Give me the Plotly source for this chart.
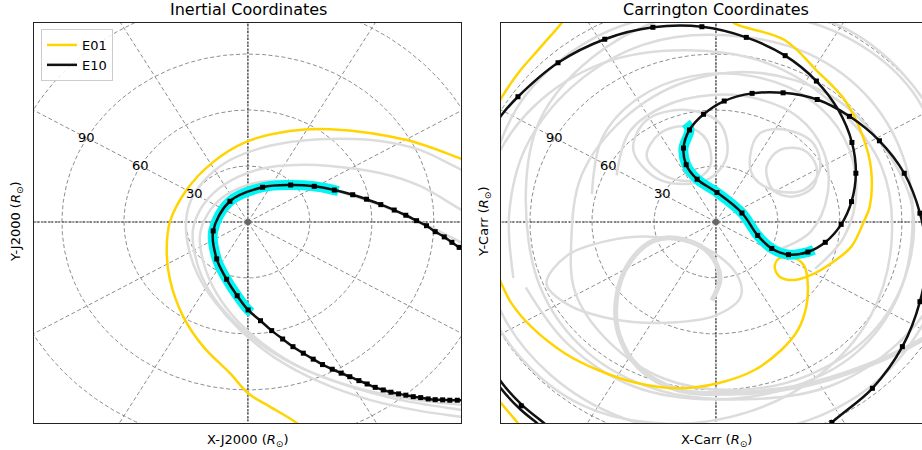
import numpy as np
import plotly.graph_objects as go

# ================= DATA (solar radii) =================
# ---- Inertial (J2000) frame ----
IN_E01_X = [110.0, 102.6, 76.8, 39.7, 20.3, -0.6, -17.6, -29.7, -37.7, -39.3, -37.7, -31.3, -21.6, -8.7, 0.1, 10.6, 22.7, 27.6]
IN_E01_Y = [31.0, 34.1, 43.9, 49.7, 48.7, 43.0, 31.4, 17.1, 0.2, -15.9, -31.1, -50.7, -66.8, -81.0, -91.8, -98.9, -107.0, -111.4]

IN_E10_X = [106.0, 102.2, 98.7, 95.0, 90.6, 86.4, 81.6, 76.4, 70.8, 64.3, 57.4, 50.7, 41.8, 32.1, 20.7, 7.1, -8.7, -16.8,
            -15.1, -10.3, -5.2, 0.1, 6.1, 11.5, 16.8, 21.8, 26.8, 31.6, 36.1, 40.8, 45.1, 49.3, 53.7, 57.7, 61.6, 65.5,
            69.2, 72.9, 76.4, 80.0, 83.6, 87.2, 90.6, 94.2, 97.7, 101.3, 104.8]
IN_E10_Y = [-16.0, -13.6, -10.9, -8.0, -5.2, -2.0, 0.7, 3.6, 6.4, 9.3, 12.2, 14.6, 17.1, 19.1, 19.8, 18.6, 11.1, -4.8,
            -19.8, -30.7, -39.5, -47.1, -52.9, -58.2, -62.7, -66.8, -70.3, -73.5, -76.4, -78.9, -81.0, -82.9, -85.0, -86.8,
            -88.6, -90.0, -91.2, -92.1, -92.8, -93.6, -94.1, -94.8, -95.2, -95.3, -95.5, -95.5, -95.6]

IN_CYAN_X = [43.8, 41.8, 32.1, 20.7, 7.1, -8.7, -16.8, -15.1, -10.3, -5.2, 0.1, 1.8]
IN_CYAN_Y = [16.6, 17.1, 19.1, 19.8, 18.6, 11.1, -4.8, -19.8, -30.7, -39.5, -47.1, -48.5]

IN_GRAY1_X = [109.8, 103.5, 83.2, 63.9, 39.7, 20.3, 3.4, -11.1, -21.8, -28.1, -30.0, -28.5, -24.2, -16.0, -3.9, 13.1, 34.8, 59.0, 83.2, 103.5, 109.8]
IN_GRAY1_Y = [25.2, 27.9, 38.6, 43.4, 44.5, 42.8, 38.6, 31.6, 21.4, 10.2, -1.6, -15.0, -28.4, -42.8, -57.8, -72.8, -85.7, -95.3, -101.2, -104.4, -105.5]
IN_GRAY2_X = [107.4, 103.5, 83.2, 63.9, 39.7, 22.7, 8.2, -4.8, -16.0, -23.2, -26.6, -25.6, -20.8, -11.1, 3.4, 22.7, 46.9, 73.5, 103.5, 109.8]
IN_GRAY2_Y = [4.3, 6.4, 19.3, 26.2, 30.0, 30.5, 28.9, 24.1, 16.1, 6.4, -4.3, -17.7, -32.7, -48.2, -63.2, -76.6, -87.3, -95.3, -100.7, -101.8]
IN_GRAY3_X = [107.4, 103.5, 83.2, 63.9, 44.5, 25.2, 10.6, -1.5, -12.6, -19.8, -23.2, -21.8, -16.9, -7.7, 6.8, 25.2, 49.3, 76.0, 103.5, 109.8]
IN_GRAY3_Y = [-13.4, -11.2, 0.0, 9.1, 16.1, 20.9, 22.0, 19.3, 12.9, 3.7, -7.0, -20.4, -34.8, -49.8, -64.8, -77.7, -87.8, -94.3, -98.0, -98.6]

# ---- Carrington frame ----
CA_E10_X = [-108.0, -103.7, -95.8, -76.4, -53.8, -30.5, -6.8, 14.7, 33.5, 48.6, 59.2, 65.8, 67.7, 65.6, 60.6, 52.9, 44.5,
            35.1, 27.0, 20.2, 12.6, 0.5, -9.1, -14.4, -15.7, -12.8, -6.0, 4.0, 17.5, 32.5, 49.0, 64.6, 79.1, 91.1, 98.7,
            102.1, 98.7, 90.2, 75.7, 56.1, 47.9, None,
            -106.9, -103.9, -93.9, -82.7, -79.3, None,
            -106.9, -103.9, -94.8, -86.1, -82.7]
CA_E10_Y = [50.0, 57.3, 67.1, 85.3, 97.9, 104.3, 104.6, 98.9, 89.1, 75.5, 60.0, 42.6, 26.1, 10.9, -1.3, -10.9, -16.1,
            -17.5, -14.2, -7.2, 4.8, 15.8, 22.9, 30.7, 39.6, 49.3, 57.7, 64.8, 68.9, 69.2, 65.6, 56.6, 43.5, 26.1, 4.7,
            -19.3, -42.7, -66.8, -89.1, -107.4, -116.8, None,
            -80.3, -85.7, -98.0, -108.2, -111.4, None,
            -84.6, -89.4, -100.2, -108.2, -111.4]
CA_E10_DAY_X = [-95.8, -76.4, -53.8, -30.5, -6.8, 14.7, 33.5, 48.6, 65.8, 67.7, 65.6, 60.6, 52.9, 44.5, 35.1, 27.0, 20.2,
                12.6, 0.5, -9.1, -14.4, -15.7, -12.8, -6.0, 4.0, 17.5, 32.5, 49.0, 64.6, 79.1, 91.1, 98.7, 98.7, 90.2,
                75.7, 56.1, -94.2]
CA_E10_DAY_Y = [67.1, 85.3, 97.9, 104.3, 104.6, 98.9, 89.1, 75.5, 42.6, 26.1, 10.9, -1.3, -10.9, -16.1, -17.5, -14.2, -7.2,
                4.8, 15.8, 22.9, 30.7, 39.6, 49.3, 57.7, 64.8, 68.9, 69.2, 65.6, 56.6, 43.5, 26.1, 4.7, -42.7, -66.8,
                -89.1, -107.4, -98.5]
CA_CYAN_X = [47.4, 44.5, 35.1, 27.0, 20.2, 12.6, 0.5, -9.1, -14.4, -15.7, -12.8, -14.5]
CA_CYAN_Y = [-15.0, -16.1, -17.5, -14.2, -7.2, 4.8, 15.8, 22.9, 30.7, 39.6, 49.3, 53.0]

CA_E01_X = [-106.9, -103.9, -95.8, -86.1, -74.8, -70.6, None,
            6.8, 9.0, 33.2, 48.5, 62.3, 71.1, 75.1, 74.4, 71.9, 65.5, 55.8, 46.1, 38.1, 30.8, 28.4, 30.8, 38.1, 42.9,
            44.5, 43.7, 39.7, 31.6, 18.7, 1.0, -18.4, -37.7, -57.1, -73.2, -89.4, -99.0, -103.9, -108.4, None,
            -106.9, -103.9, -95.8, -92.4]
CA_E01_Y = [60.0, 66.3, 79.6, 92.1, 106.4, 112.5, None,
            109.3, 106.4, 97.5, 81.4, 65.3, 45.7, 27.9, 8.2, 1.1, -13.2, -22.1, -28.4, -31.1, -29.3, -23.9, -19.4, -19.4,
            -23.9, -34.7, -45.4, -57.8, -68.6, -79.3, -86.4, -89.1, -86.4, -79.3, -70.3, -56.1, -43.5, -32.8, -21.4, None,
            -92.7, -97.1, -107.8, -112.5]

# gray trajectories of the other encounters (Carrington frame)
CA_GRAY_A_X = [-33.5, -27.1, -14.2, -4.5, -2.9, -11.0, -23.9, -33.5]
CA_GRAY_A_Y = [35.0, 47.5, 51.1, 43.9, 29.6, 22.5, 24.3, 35.0]
CA_GRAY_B_X = [-40.0, -33.5, -14.2, 1.9, 5.2, -4.5, -27.1, -40.0]
CA_GRAY_B_Y = [38.6, 54.6, 60.0, 52.8, 35.0, 22.5, 22.5, 38.6]
CA_GRAY_C_X = [16.5, 21.3, 34.2, 47.1, 50.3, 42.3, 27.7, 18.1, 16.5]
CA_GRAY_C_Y = [35.0, 47.5, 49.3, 42.1, 27.8, 17.1, 17.1, 24.3, 35.0]
CA_GRAY_D_X = [24.5, 31.0, 42.3, 48.7, 47.1, 37.4, 27.7, 24.5]
CA_GRAY_D_Y = [29.6, 38.6, 38.6, 29.6, 18.9, 13.6, 17.1, 29.6]
CA_GRAY_E_X = [-82, -72, -52, -30, -5, 10, 12, 0, -25, -50, -72, -82]
CA_GRAY_E_Y = [-33, -18, -10, -8, -14, -28, -40, -50, -54, -52, -44, -33]
CA_GRAY_L1_X = [-48, -42, -25, -2, 20, 40, 52, 54, 46, 30]
CA_GRAY_L1_Y = [25, 48, 62, 68, 66, 56, 38, 15, -5, -15]
CA_GRAY_L2_X = [-60, -55, -38, -12, 18, 45, 62, 68, 62, 48]
CA_GRAY_L2_Y = [15, 45, 66, 78, 78, 66, 45, 18, -8, -25]
CA_GRAY_BA1_X = [-98, -100, -92, -70, -35, 5, 45, 75, 92, 95, 88, 68, 38, 0, -40, -72, -92]
CA_GRAY_BA1_Y = [-30, 5, 40, 72, 95, 100, 90, 65, 30, -5, -40, -70, -88, -95, -88, -65, -35]
CA_GRAY_BA2_X = [-112, -108, -92, -60, -20, 25, 65, 95, 110, 112, 100, 75, 40, 0, -45, -80, -104, -112]
CA_GRAY_BA2_Y = [-10, 30, 68, 98, 112, 112, 98, 70, 30, -15, -55, -88, -108, -114, -105, -82, -48, -10]
CA_GRAY_BA3_X = [-70, -65, -45, -15, 20, 55, 80, 95, 92, 75, 45, 10, -25, -52, -68, -70]
CA_GRAY_BA3_Y = [-10, 25, 55, 75, 80, 68, 42, 8, -28, -60, -82, -90, -84, -64, -38, -10]
CA_GRAY_BA4_X = [-115, -108, -88, -55, -15, 25, 58, 80, 85, 75, 50, 15, -25, -65, -95, -112, -115]
CA_GRAY_BA4_Y = [-10, 30, 62, 85, 92, 85, 62, 30, -10, -50, -82, -102, -108, -98, -72, -40, -10]
CA_GRAY_BA5_X = [-92, -85, -60, -22, 20, 60, 90, 110, 115, 108, 88, 55, 15, -28, -62, -85, -92]
CA_GRAY_BA5_Y = [15, 55, 88, 110, 115, 105, 80, 45, 5, -35, -65, -88, -95, -90, -70, -35, 15]
CA_GRAY_T_X = [110, 99.4, 71.9, 39.7, 7.4, -18.4, -37.7, -47, -48, -42, -30, -15, -3, 2, -2]
CA_GRAY_T_Y = [-55, -63.2, -77.5, -88.2, -91.7, -90, -77.5, -60, -40, -22, -10, -9.6, -17, -30, -42]

# grid
GRID_RADII = [30, 60, 90, 120]
SPOKE_ANGLES = list(range(0, 360, 30))
RING_LABELS = [30, 60, 90]
LABEL_ANGLE = 150

# ================= FIGURE =================
FONT = "DejaVu Sans"
YELLOW = "#FFD400"
CYAN = "#00F5F5"
GRAY = "#DCDCDC"
fig = go.Figure()


def add(x, y, xa, ya, **kw):
    kw.setdefault("hoverinfo", "skip")
    kw.setdefault("showlegend", False)
    fig.add_trace(go.Scatter(x=x, y=y, xaxis=xa, yaxis=ya, **kw))


def grid(xa, ya):
    t = np.linspace(0, 2 * np.pi, 721)
    for r in GRID_RADII:
        add(r * np.cos(t), r * np.sin(t), xa, ya, mode="lines",
            line=dict(color="#808080", width=0.9, dash="4px,2.5px"))
    for a in SPOKE_ANGLES:
        th = np.deg2rad(a)
        add([0, 300 * np.cos(th)], [0, 300 * np.sin(th)], xa, ya, mode="lines",
            line=dict(color="#808080", width=0.9, dash="4px,2.5px"))
    add([-300, 300], [0, 0], xa, ya, mode="lines", line=dict(color="#333333", width=1.1, dash="2px,1.5px"))
    add([0, 0], [-300, 300], xa, ya, mode="lines", line=dict(color="#333333", width=1.1, dash="2px,1.5px"))


SPL = dict(shape="spline", smoothing=1.0)

# ---- left panel ----
grid("x", "y")
for gx, gy in [(IN_GRAY1_X, IN_GRAY1_Y), (IN_GRAY2_X, IN_GRAY2_Y), (IN_GRAY3_X, IN_GRAY3_Y)]:
    add(gx, gy, "x", "y", mode="lines", line=dict(color=GRAY, width=2.5, **SPL))
add(IN_E01_X, IN_E01_Y, "x", "y", mode="lines", name="E01", showlegend=True,
    line=dict(color=YELLOW, width=2.5, **SPL))
add(IN_CYAN_X, IN_CYAN_Y, "x", "y", mode="lines", line=dict(color=CYAN, width=10, **SPL))
add(IN_E10_X, IN_E10_Y, "x", "y", mode="lines", name="E10", showlegend=True,
    line=dict(color="#111111", width=2.5, **SPL))
add(IN_E10_X, IN_E10_Y, "x", "y", mode="markers", marker=dict(symbol="square", size=5, color="#000000"))
add([0], [0], "x", "y", mode="markers", marker=dict(size=6, color="#666666"))

# ---- right panel ----
grid("x2", "y2")
for gx, gy, w in [(CA_GRAY_BA1_X, CA_GRAY_BA1_Y, 2.5), (CA_GRAY_BA2_X, CA_GRAY_BA2_Y, 2.5),
                  (CA_GRAY_BA3_X, CA_GRAY_BA3_Y, 2.5), (CA_GRAY_BA4_X, CA_GRAY_BA4_Y, 2.5),
                  (CA_GRAY_BA5_X, CA_GRAY_BA5_Y, 2.5), (CA_GRAY_L1_X, CA_GRAY_L1_Y, 2.5),
                  (CA_GRAY_L2_X, CA_GRAY_L2_Y, 2.5), (CA_GRAY_A_X, CA_GRAY_A_Y, 2.5),
                  (CA_GRAY_B_X, CA_GRAY_B_Y, 2.5), (CA_GRAY_C_X, CA_GRAY_C_Y, 2.5),
                  (CA_GRAY_D_X, CA_GRAY_D_Y, 2.5), (CA_GRAY_E_X, CA_GRAY_E_Y, 2.5),
                  (CA_GRAY_T_X, CA_GRAY_T_Y, 5)]:
    add(gx, gy, "x2", "y2", mode="lines", line=dict(color=GRAY, width=w, **SPL))
add(CA_E01_X, CA_E01_Y, "x2", "y2", mode="lines", line=dict(color=YELLOW, width=2.5, **SPL))
add(CA_CYAN_X, CA_CYAN_Y, "x2", "y2", mode="lines", line=dict(color=CYAN, width=10, **SPL))
add(CA_E10_X, CA_E10_Y, "x2", "y2", mode="lines", line=dict(color="#111111", width=2.5, **SPL))
add(CA_E10_DAY_X, CA_E10_DAY_Y, "x2", "y2", mode="markers", marker=dict(symbol="square", size=5, color="#000000"))
add([0], [0], "x2", "y2", mode="markers", marker=dict(size=6, color="#666666"))

# ring labels
ann = []
for xr, yr in [("x", "y"), ("x2", "y2")]:
    for r in RING_LABELS:
        th = np.deg2rad(LABEL_ANGLE)
        ann.append(dict(x=r * np.cos(th), y=r * np.sin(th), xref=xr, yref=yr, text=str(r), showarrow=False,
                        font=dict(family=FONT, size=13, color="#000000"), xanchor="center", yanchor="middle"))

W, H = 922, 450
ML, MT, MB = 34, 23, 27
PW, PH = W - ML, H - MT - MB


def px(xp):
    return (xp - ML) / PW


def py(yp):
    return 1 - (yp - MT) / PH


lab = dict(family=FONT, size=13, color="#000000")
ann += [
    dict(x=px(248), y=py(9), xref="paper", yref="paper", text="Inertial Coordinates", showarrow=False,
         font=dict(family=FONT, size=16, color="#000000"), xanchor="center", yanchor="middle"),
    dict(x=px(716), y=py(9), xref="paper", yref="paper", text="Carrington Coordinates", showarrow=False,
         font=dict(family=FONT, size=16, color="#000000"), xanchor="center", yanchor="middle"),
    dict(x=px(248), y=py(440), xref="paper", yref="paper", text="X-J2000 (<i>R</i><sub>⊙</sub>)", showarrow=False,
         font=lab, xanchor="center", yanchor="middle"),
    dict(x=px(716), y=py(440), xref="paper", yref="paper", text="X-Carr (<i>R</i><sub>⊙</sub>)", showarrow=False,
         font=lab, xanchor="center", yanchor="middle"),
    dict(x=px(16), y=py(222), xref="paper", yref="paper", text="Y-J2000 (<i>R</i><sub>⊙</sub>)", showarrow=False,
         font=lab, xanchor="center", yanchor="middle", textangle=-90),
    dict(x=px(484), y=py(222), xref="paper", yref="paper", text="Y-Carr (<i>R</i><sub>⊙</sub>)", showarrow=False,
         font=lab, xanchor="center", yanchor="middle", textangle=-90),
]

axis_common = dict(showgrid=False, zeroline=False, showticklabels=False, ticks="", showline=True, mirror=True,
                   linecolor="#222222", linewidth=1)
fig.update_layout(
    width=W, height=H, margin=dict(l=ML, r=0, t=MT, b=MB),
    plot_bgcolor="white", paper_bgcolor="white",
    xaxis=dict(domain=[0, 427 / PW], range=[-103.5, 103.1], **axis_common),
    yaxis=dict(domain=[0, 1], range=[-107.7, 106.6], **axis_common),
    xaxis2=dict(domain=[467 / PW, 1], range=[-104.0, 99.7], anchor="y2", **axis_common),
    yaxis2=dict(domain=[0, 1], range=[-107.7, 106.6], anchor="x2", **axis_common),
    annotations=ann,
    legend=dict(x=px(41), y=py(29), xanchor="left", yanchor="top", bgcolor="rgba(255,255,255,0.85)",
                bordercolor="#cccccc", borderwidth=1, font=dict(family=FONT, size=13, color="#000000"),
                itemwidth=30, tracegroupgap=0),
    showlegend=True,
)

fig.write_html("out.html", config={"displayModeBar": False},
               post_script="document.body.style.margin='0px';document.body.style.overflow='hidden';")
